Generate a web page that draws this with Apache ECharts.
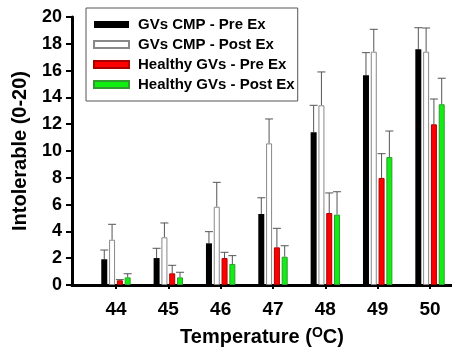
<!DOCTYPE html>
<html>
<head>
<meta charset="utf-8">
<script src="https://cdn.jsdelivr.net/npm/echarts@6/dist/echarts.min.js"></script>
<style>
  html, body { margin: 0; padding: 0; background: #fff; }
  #chart { width: 452px; height: 348px; }
</style>
</head>
<body>
<div id="chart"></div>
<script>
const temps = [44, 45, 46, 47, 48, 49, 50];
const yTicks = [0, 2, 4, 6, 8, 10, 12, 14, 16, 18, 20];

const cmpPre = [1.92, 2.01, 3.11, 5.30, 11.39, 15.65, 17.59];
const cmpPreSd = [0.69, 0.73, 0.87, 1.21, 2.02, 1.69, 1.61];
const cmpPost = [3.38, 3.56, 5.84, 10.57, 13.41, 17.41, 17.41];
const cmpPostSd = [1.15, 1.07, 1.82, 1.82, 2.49, 1.67, 1.77];
const healthyPre = [0.35, 0.87, 2.01, 2.81, 5.37, 7.99, 11.99];
const healthyPreSd = [0.05, 0.60, 0.43, 1.42, 1.50, 1.81, 1.89];
const healthyPost = [0.57, 0.57, 1.57, 2.11, 5.25, 9.55, 13.49];
const healthyPostSd = [0.27, 0.38, 0.62, 0.82, 1.71, 1.94, 1.94];

const names = ['GVs CMP - Pre Ex', 'GVs CMP - Post Ex', 'Healthy GVs - Pre Ex', 'Healthy GVs - Post Ex'];

const FONT = "'Liberation Sans', Arial, sans-serif";
const BAR_W = 6;
const BAR_GAP = 0.3;
const PITCH = BAR_W * (1 + BAR_GAP);

function barSeries(name, vals, color, border) {
    return {
        name: name,
        type: 'bar',
        data: temps.map((t, i) => [t, vals[i]]),
        barWidth: BAR_W,
        barGap: (BAR_GAP * 100) + '%',
        itemStyle: {
            color: color,
            borderColor: border || color,
            borderWidth: border ? 1 : 0
        },
        z: 3
    };
}

// 误差线：只画上半部分
function errorSeries(idx, vals, sds) {
    return {
        type: 'custom',
        data: temps.map((t, i) => [t, vals[i], vals[i] + sds[i]]),
        encode: { x: 0, y: [1, 2] },
        silent: true,
        z: 2,
        renderItem(params, api) {
            const base = api.coord([api.value(0), api.value(1)]);
            const top = api.coord([api.value(0), api.value(2)]);
            const x = base[0] + (idx - 1.5) * PITCH;
            const style = { stroke: '#555', lineWidth: 1 };
            return {
                type: 'group',
                children: [
                    { type: 'line', shape: { x1: x, y1: base[1], x2: x, y2: top[1] }, style: style },
                    { type: 'line', shape: { x1: x - 4, y1: top[1], x2: x + 4, y2: top[1] }, style: style }
                ]
            };
        }
    };
}

const chart = echarts.init(document.getElementById('chart'), null, { renderer: 'canvas' });

chart.setOption({
    animation: false,
    backgroundColor: '#fff',
    textStyle: { fontFamily: FONT },
    grid: { left: 72, right: 0, top: 17, bottom: 63, outerBoundsMode: 'none', containLabel: false },
    legend: {
        data: names,
        orient: 'vertical',
        left: 86,
        top: 8,
        padding: [9, 3, 9, 7],
        itemWidth: 35,
        itemHeight: 7,
        itemGap: 5,
        icon: 'rect',
        backgroundColor: '#fff',
        borderColor: '#555',
        borderWidth: 1,
        borderRadius: 0,
        textStyle: { fontFamily: FONT, fontSize: 15, fontWeight: 'bold', color: '#000', lineHeight: 14, padding: [0, 0, 0, 4] }
    },
    xAxis: {
        type: 'value',
        min: 43.16,
        max: 50.42,
        splitLine: { show: false },
        axisLine: { lineStyle: { color: '#000', width: 3 } },
        axisTick: { customValues: temps, length: 4, lineStyle: { color: '#000', width: 2 } },
        axisLabel: {
            customValues: temps,
            margin: 15,
            fontSize: 19,
            fontWeight: 'bold',
            color: '#000',
            fontFamily: FONT
        },
        name: 'Temperature ({sup|O}C)',
        nameLocation: 'middle',
        nameGap: 41,
        nameTextStyle: {
            fontSize: 20,
            fontWeight: 'bold',
            color: '#000',
            fontFamily: FONT,
            rich: {
                sup: { fontSize: 14, fontWeight: 'bold', color: '#000', fontFamily: FONT, verticalAlign: 'top', padding: [0, 0, 8, 0] }
            }
        }
    },
    yAxis: {
        type: 'value',
        min: 0,
        max: 20,
        interval: 2,
        splitLine: { show: false },
        axisLine: { show: true, lineStyle: { color: '#000', width: 3 } },
        axisTick: { show: true, length: 6, lineStyle: { color: '#000', width: 2 } },
        axisLabel: {
            margin: 10,
            fontSize: 18,
            fontWeight: 'bold',
            color: '#000',
            fontFamily: FONT,
            formatter: v => yTicks.includes(v) ? String(v) : ''
        },
        name: 'Intolerable (0-20)',
        nameLocation: 'middle',
        nameGap: 42,
        nameTextStyle: { fontSize: 20, fontWeight: 'bold', color: '#000', fontFamily: FONT }
    },
    series: [
        barSeries(names[0], cmpPre, '#000'),
        barSeries(names[1], cmpPost, '#fff', '#888'),
        barSeries(names[2], healthyPre, '#ff0000', '#a00'),
        barSeries(names[3], healthyPost, '#11ee11', '#393'),
        errorSeries(0, cmpPre, cmpPreSd),
        errorSeries(1, cmpPost, cmpPostSd),
        errorSeries(2, healthyPre, healthyPreSd),
        errorSeries(3, healthyPost, healthyPostSd)
    ]
});
</script>
</body>
</html>
